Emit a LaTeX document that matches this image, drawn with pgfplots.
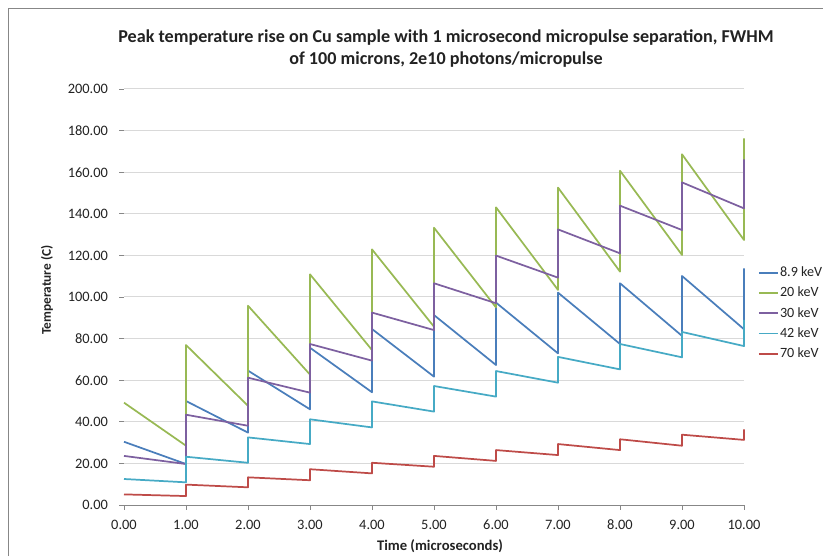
\documentclass[border=0pt]{standalone}
\usepackage{pgfplots}
\pgfplotsset{compat=1.18}
\usepackage{fontspec}
\setmainfont{Carlito}
\definecolor{c1}{HTML}{4A7EBB}
\definecolor{c2}{HTML}{98B954}
\definecolor{c3}{HTML}{7D60A0}
\definecolor{c4}{HTML}{46AAC5}
\definecolor{c5}{HTML}{BE4B48}
\definecolor{gridc}{HTML}{D9D9D9}
\definecolor{axc}{HTML}{878787}
\definecolor{txt}{HTML}{222222}
\begin{document}
\begin{tikzpicture}
\useasboundingbox (0,0) rectangle (617.25pt,417pt);
\draw[axc, line width=0.75pt] (6pt,0) -- (6pt,410.25pt) -- (617.25pt,410.25pt);
\begin{axis}[
  at={(93pt,38.25pt)}, anchor=south west,
  scale only axis, width=465pt, height=312pt,
  xmin=0, xmax=10, ymin=0, ymax=200,
  xtick={0,1,...,10}, ytick={0,20,...,200},
  axis x line*=bottom, axis y line*=left,
  x axis line style={axc, line width=0.75pt, -},
  y axis line style={draw=none, -},
  tick align=outside, major tick length=3.5pt,
  major tick style={axc, line width=0.6pt},
  ymajorgrids, grid style={gridc, line width=0.75pt},
  /pgf/number format/assume math mode=true,
  xticklabel style={/pgf/number format/.cd, fixed, fixed zerofill, precision=2},
  yticklabel style={/pgf/number format/.cd, fixed, fixed zerofill, precision=2},
  ticklabel style={font=\fontsize{10.8}{12}\selectfont, text=txt},
  xticklabel shift=4pt, yticklabel shift=5pt,
  legend style={draw=none, fill=none, at={(rel axis cs:1.022,0.461)}, anchor=west,
    font=\fontsize{10.6}{12}\selectfont, text=txt, row sep=4.7pt, inner sep=0pt,
    nodes={inner sep=0.8pt}},
  legend cell align=left,
  legend image code/.code={\draw[#1, line width=1.3pt] (0pt,0pt) -- (14.5pt,0pt);},
  every axis plot/.append style={line width=1.3pt, line join=round},
  clip=false,
]
\addplot[c1] coordinates {(0,30.4) (1,19.7) (1,50.0) (2,34.8) (2,64.6) (3,46.0) (3,75.6) (4,54.2) (4,84.6) (5,61.7) (5,91.3) (6,67.3) (6,97.3) (7,72.9) (7,102.1) (8,77.4) (8,106.6) (9,81.3) (9,110.1) (10,84.5) (10,113.8)};
\addlegendentry{8.9 keV}
\addplot[c2] coordinates {(0,49.2) (1,28.5) (1,76.9) (2,47.7) (2,95.8) (3,62.7) (3,110.9) (4,74.5) (4,122.9) (5,85.7) (5,133.3) (6,95.0) (6,143.1) (7,103.4) (7,152.6) (8,112.2) (8,160.7) (9,120.2) (9,168.6) (10,127.4) (10,176.3)};
\addlegendentry{20 keV}
\addplot[c3] coordinates {(0,23.6) (1,19.7) (1,43.4) (2,38.1) (2,61.2) (3,54.0) (3,77.4) (4,69.4) (4,92.5) (5,84.1) (5,106.6) (6,97.0) (6,119.9) (7,109.3) (7,132.5) (8,121.0) (8,143.9) (9,132.2) (9,155.1) (10,142.6) (10,166.2)};
\addlegendentry{30 keV}
\addplot[c4] coordinates {(0,12.5) (1,10.9) (1,23.2) (2,20.3) (2,32.5) (3,29.3) (3,41.2) (4,37.3) (4,49.8) (5,44.9) (5,57.2) (6,52.1) (6,64.4) (7,58.8) (7,71.2) (8,65.2) (8,77.4) (9,71.0) (9,83.2) (10,76.4) (10,89.0)};
\addlegendentry{42 keV}
\addplot[c5] coordinates {(0,5.1) (1,4.3) (1,9.8) (2,8.5) (2,13.3) (3,11.9) (3,17.2) (4,15.2) (4,20.3) (5,18.4) (5,23.6) (6,21.2) (6,26.4) (7,24.0) (7,29.3) (8,26.4) (8,31.6) (9,28.5) (9,33.8) (10,31.3) (10,36.4)};
\addlegendentry{70 keV}
\end{axis}
\node[align=center, font=\bfseries\fontsize{13.6}{16.5}\selectfont, text=txt] at (334.5pt,380.25pt)
  {Peak temperature rise on Cu sample with 1 microsecond micropulse separation, FWHM\\of 100 microns, 2e10 photons/micropulse};
\node[rotate=90, font=\bfseries\fontsize{10}{12}\selectfont, text=txt] at (35.25pt,199.5pt) {Temperature (C)};
\node[font=\bfseries\fontsize{11}{12}\selectfont, text=txt] at (330pt,7.5pt) {Time (microseconds)};
\end{tikzpicture}
\end{document}
